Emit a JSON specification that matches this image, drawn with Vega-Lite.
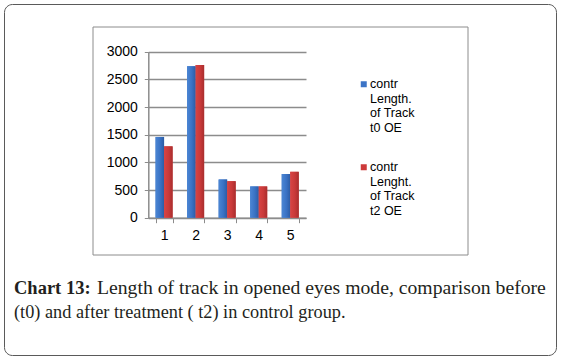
{
  "$schema": "https://vega.github.io/schema/vega-lite/v6.json",
  "width": 552,
  "height": 351,
  "autosize": "none",
  "padding": {"left": 4, "top": 4, "right": 5, "bottom": 2},
  "background": "white",
  "config": {
    "view": {"stroke": "#5a5a5a", "strokeWidth": 1, "cornerRadius": 8}
  },
  "resolve": {"scale": {"x": "independent", "y": "independent", "color": "independent"}, "axis": {"x": "independent", "y": "independent"}},
  "layer": [
    {
      "data": {"values": [{"frame": "inner"}]},
      "mark": {"type": "rect", "fill": null, "fillOpacity": 0, "stroke": "#8c8c8c", "strokeWidth": 1},
      "encoding": {
        "x": {"datum": 89, "type": "quantitative", "scale": {"domain": [0, 552], "range": [0, 552], "nice": false, "zero": false}, "axis": null},
        "x2": {"datum": 464},
        "y": {"datum": 23, "type": "quantitative", "scale": {"domain": [0, 351], "range": [0, 351], "nice": false, "zero": false}, "axis": null},
        "y2": {"datum": 251}
      }
    },
    {
      "data": {"values": [
        {"cat": "1", "series": "contr Length. of Track t0 OE", "value": 1460},
        {"cat": "1", "series": "contr Lenght. of Track t2 OE", "value": 1290},
        {"cat": "2", "series": "contr Length. of Track t0 OE", "value": 2740},
        {"cat": "2", "series": "contr Lenght. of Track t2 OE", "value": 2760},
        {"cat": "3", "series": "contr Length. of Track t0 OE", "value": 690},
        {"cat": "3", "series": "contr Lenght. of Track t2 OE", "value": 660},
        {"cat": "4", "series": "contr Length. of Track t0 OE", "value": 565},
        {"cat": "4", "series": "contr Lenght. of Track t2 OE", "value": 565},
        {"cat": "5", "series": "contr Length. of Track t0 OE", "value": 790},
        {"cat": "5", "series": "contr Lenght. of Track t2 OE", "value": 830}
      ]},
      "encoding": {
        "x": {
          "field": "cat", "type": "nominal",
          "scale": {"range": [144.3, 302], "paddingInner": 0.46, "paddingOuter": 0.23},
          "axis": {
            "title": null, "offset": -137.3, "labelAngle": 0,
            "labelFont": "Liberation Sans", "labelFontSize": 14, "labelColor": "#000000",
            "labelPadding": 6, "tickBand": "extent", "tickSize": 5,
            "tickColor": "#8c8c8c", "domainColor": "#8c8c8c", "domainWidth": 1.5, "tickWidth": 1,
            "grid": false
          }
        },
        "xOffset": {"field": "series", "type": "nominal", "sort": ["contr Length. of Track t0 OE", "contr Lenght. of Track t2 OE"]},
        "y": {
          "field": "value", "type": "quantitative",
          "scale": {"domain": [0, 3000], "range": [213.7, 47.8], "nice": false},
          "axis": {
            "title": null, "offset": -144.3, "values": [0, 500, 1000, 1500, 2000, 2500, 3000], "format": "d",
            "labelFont": "Liberation Sans", "labelFontSize": 14, "labelColor": "#000000",
            "labelPadding": 7, "tickSize": 4, "tickColor": "#8c8c8c", "tickWidth": 1,
            "domainColor": "#8c8c8c", "domainWidth": 1.5,
            "grid": true, "gridColor": "#8c8c8c", "gridWidth": 1.5
          }
        }
      },
      "layer": [
        {
          "mark": {"type": "bar"},
          "encoding": {
            "color": {
              "field": "series", "type": "nominal",
              "sort": ["contr Length. of Track t0 OE", "contr Lenght. of Track t2 OE"],
              "scale": {"range": ["#3c74c6", "#cd3a3a"]},
              "legend": {
                "title": null, "orient": "none", "legendX": 353.5, "legendY": 68,
                "padding": 0, "symbolType": "M-1,1H1V3H-1Z", "symbolSize": 36, "symbolStrokeWidth": 0,
                "labelFont": "Liberation Sans", "labelFontSize": 12.5, "labelColor": "#000000",
                "labelBaseline": "top", "labelOffset": 0, "rowPadding": 20, "labelLimit": 200,
                "labelExpr": "datum.label == 'contr Length. of Track t0 OE' ? ['contr', 'Length.', 'of Track', 't0 OE'] : ['contr', 'Lenght.', 'of Track', 't2 OE']"
              }
            }
          }
        },
        {
          "transform": [{"filter": "datum.series == 'contr Length. of Track t0 OE'"}],
          "mark": {"type": "bar", "color": {"gradient": "linear", "x1": 0, "y1": 0, "x2": 1, "y2": 0, "stops": [{"offset": 0, "color": "#4b86d4"}, {"offset": 0.55, "color": "#3a72c4"}, {"offset": 1, "color": "#2d5ca4"}]}}
        },
        {
          "transform": [{"filter": "datum.series == 'contr Lenght. of Track t2 OE'"}],
          "mark": {"type": "bar", "color": {"gradient": "linear", "x1": 0, "y1": 0, "x2": 1, "y2": 0, "stops": [{"offset": 0, "color": "#d84444"}, {"offset": 0.55, "color": "#c93939"}, {"offset": 1, "color": "#a82e2e"}]}}
        }
      ]
    },
    {
      "data": {"values": [{"caption": "Chart 13:"}]},
      "mark": {"type": "text", "font": "Liberation Serif", "fontSize": 18.5, "fontWeight": "bold", "align": "left", "baseline": "alphabetic", "color": "#231f20"},
      "encoding": {
        "text": {"field": "caption"},
        "x": {"datum": 10, "type": "quantitative", "scale": {"domain": [0, 552], "range": [0, 552], "nice": false, "zero": false}, "axis": null},
        "y": {"datum": 290, "type": "quantitative", "scale": {"domain": [0, 351], "range": [0, 351], "nice": false, "zero": false}, "axis": null}
      }
    },
    {
      "data": {"values": [{"caption": "Length of track in opened eyes mode, comparison before"}]},
      "mark": {"type": "text", "font": "Liberation Serif", "fontSize": 19.7, "align": "left", "baseline": "alphabetic", "color": "#231f20"},
      "encoding": {
        "text": {"field": "caption"},
        "x": {"datum": 93, "type": "quantitative", "scale": {"domain": [0, 552], "range": [0, 552], "nice": false, "zero": false}, "axis": null},
        "y": {"datum": 290, "type": "quantitative", "scale": {"domain": [0, 351], "range": [0, 351], "nice": false, "zero": false}, "axis": null}
      }
    },
    {
      "data": {"values": [{"caption": "(t0) and after treatment ( t2) in control group."}]},
      "mark": {"type": "text", "font": "Liberation Serif", "fontSize": 18.3, "align": "left", "baseline": "alphabetic", "color": "#231f20"},
      "encoding": {
        "text": {"field": "caption"},
        "x": {"datum": 10, "type": "quantitative", "scale": {"domain": [0, 552], "range": [0, 552], "nice": false, "zero": false}, "axis": null},
        "y": {"datum": 314, "type": "quantitative", "scale": {"domain": [0, 351], "range": [0, 351], "nice": false, "zero": false}, "axis": null}
      }
    }
  ]
}
